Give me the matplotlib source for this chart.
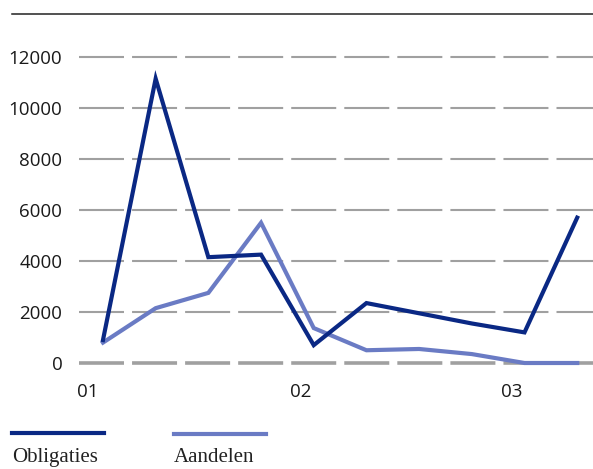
import numpy as np
import matplotlib
matplotlib.use("Agg")
import matplotlib.pyplot as plt
from matplotlib.lines import Line2D

# quarterly values
obligaties = [900, 11150, 4150, 4250, 700, 2350, 1950, 1550, 1200, 5700]
aandelen = [800, 2150, 2750, 5500, 1370, 500, 550, 350, 0, 0]
year_labels = ['01', '02', '03']
year_pos = [-0.28, 3.76, 7.76]
y_ticks = [0, 2000, 4000, 6000, 8000, 10000, 12000]

col_obl = '#0a2884'
col_aan = '#6a7bc4'
col_grid = '#a0a0a0'

plt.rcParams['lines.scale_dashes'] = False

W, H = 593, 469
fig = plt.figure(figsize=(W / 100, H / 100), dpi=100)

# axes placed in pixel terms
left, right, top, bottom = 79, 593, 40, 375
ax = fig.add_axes([left / W, 1 - bottom / H, (right - left) / W, (bottom - top) / H])

x = np.arange(len(obligaties))
ppu = (363 - 57) / 12000.0
ax.set_ylim(-(bottom - 363) / ppu, 12000 + (57 - top) / ppu)
ax.set_xlim(-0.455, 9.3)

# gridlines
for v in y_ticks[1:]:
    ax.axhline(v, color=col_grid, lw=1.5, ls=(0, (32.4, 5.8)), zorder=1)
ax.axhline(0, color=col_grid, lw=2.6, ls=(0, (32.4, 5.8)), zorder=1)

ax.plot(x, aandelen, color=col_aan, lw=3.0, solid_joinstyle='miter', zorder=3)
ax.plot(x, obligaties, color=col_obl, lw=3.0, solid_joinstyle='miter', zorder=4)

for s in ax.spines.values():
    s.set_visible(False)

ax.set_yticks(y_ticks)
ax.set_yticklabels([str(v) for v in y_ticks], fontfamily='Open Sans', fontsize=13.5, color='#1a1a1a')
ax.set_xticks(year_pos)
ax.set_xticklabels(year_labels, fontfamily='Open Sans', fontsize=13.5, color='#1a1a1a')
ax.tick_params(axis='y', length=0, pad=12)
ax.tick_params(axis='x', length=0, pad=6)

# top rule
fig.add_artist(Line2D([12 / W, 1], [1 - 14 / H] * 2, color='#222222', lw=1.1))

# legend
fig.add_artist(Line2D([12 / W, 104 / W], [1 - 433 / H] * 2, color=col_obl, lw=3.0))
fig.add_artist(Line2D([174 / W, 266 / W], [1 - 434 / H] * 2, color=col_aan, lw=3.0))
fig.text(12 / W, 1 - 462 / H, 'Obligaties', fontfamily='Liberation Serif', fontsize=15,
         color='#222222', va='baseline')
fig.text(174 / W, 1 - 462 / H, 'Aandelen', fontfamily='Liberation Serif', fontsize=15,
         color='#222222', va='baseline')

fig.savefig('out.png', dpi=100)
